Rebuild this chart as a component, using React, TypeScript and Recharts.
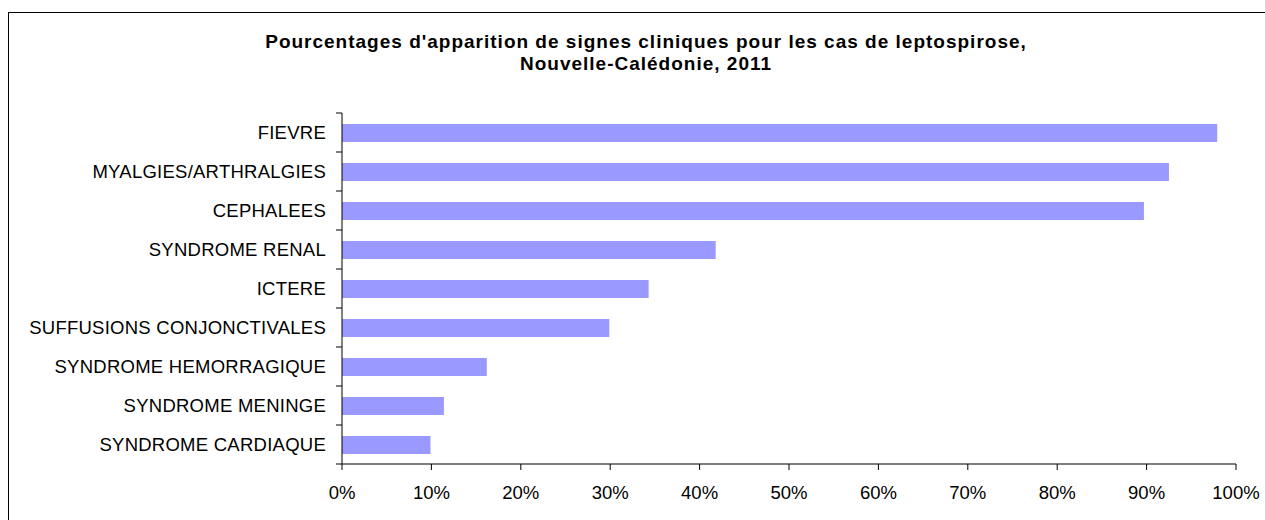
import { BarChart, Bar, XAxis, YAxis } from "recharts";

const signes = [
    "FIEVRE",
    "MYALGIES/ARTHRALGIES",
    "CEPHALEES",
    "SYNDROME RENAL",
    "ICTERE",
    "SUFFUSIONS CONJONCTIVALES",
    "SYNDROME HEMORRAGIQUE",
    "SYNDROME MENINGE",
    "SYNDROME CARDIAQUE"
];
const pourcentages = [97.9, 92.5, 89.7, 41.8, 34.3, 29.9, 16.2, 11.4, 9.9];
const xTicks = [0, 10, 20, 30, 40, 50, 60, 70, 80, 90, 100];

const CHART_W = 1256;
const CHART_H = 507;
const MARGIN = { top: 100, right: 29, bottom: 16, left: 0 };
const X_AXIS_H = 40;
const Y_AXIS_W = 333;
const BAND = (CHART_H - MARGIN.top - MARGIN.bottom - X_AXIS_H) / signes.length;
const FONT = "'Liberation Sans', Arial, sans-serif";

const data = signes.map((signe, i) => ({ signe, pct: pourcentages[i] }));

const YTick = (props: any) => {
    const { y, payload, index } = props;
    const axisX = Y_AXIS_W;
    return (
        <g>
            <line x1={axisX - 6} x2={axisX} y1={y - BAND / 2} y2={y - BAND / 2} stroke="#000" />
            {index === signes.length - 1 && (
                <line x1={axisX - 6} x2={axisX} y1={y + BAND / 2} y2={y + BAND / 2} stroke="#000" />
            )}
            <text x={axisX - 16} y={y} textAnchor="end" dominantBaseline="central"
                fontSize={18.5} fontFamily={FONT} fill="#000" letterSpacing={0.25}>
                {payload.value}
            </text>
        </g>
    );
};

export default function App() {
    return (
        <div>
            <style>{`body{margin:0;overflow:hidden;}`}</style>
            <div style={{
                position: "absolute", left: 8, top: 12, width: CHART_W, height: 508,
                borderLeft: "1px solid #000", borderTop: "1px solid #000"
            }}>
                <BarChart width={CHART_W} height={CHART_H} layout="vertical" data={data} margin={MARGIN}>
                    <XAxis type="number" dataKey="pct" domain={[0, 100]} ticks={xTicks}
                        tickFormatter={(v: number) => `${v}%`} height={X_AXIS_H}
                        axisLine={{ stroke: "#000" }} tickLine={{ stroke: "#000" }} tickSize={6} tickMargin={16}
                        tick={{ fontSize: 18.5, fontFamily: FONT, fill: "#000" }} interval={0} />
                    <YAxis type="category" dataKey="signe" width={Y_AXIS_W} tickLine={false}
                        axisLine={{ stroke: "#000" }} tick={<YTick />} interval={0} />
                    <Bar dataKey="pct" fill="#9999FF" barSize={18} isAnimationActive={false} />
                </BarChart>
            </div>
            <div style={{
                position: "absolute", left: 246, top: 31, width: 800, textAlign: "center",
                fontFamily: FONT, fontWeight: "bold", fontSize: 19, lineHeight: "22px",
                letterSpacing: 1.0, color: "#000"
            }}>
                Pourcentages d'apparition de signes cliniques pour les cas de leptospirose,<br />
                Nouvelle-Calédonie, 2011
            </div>
        </div>
    );
}
